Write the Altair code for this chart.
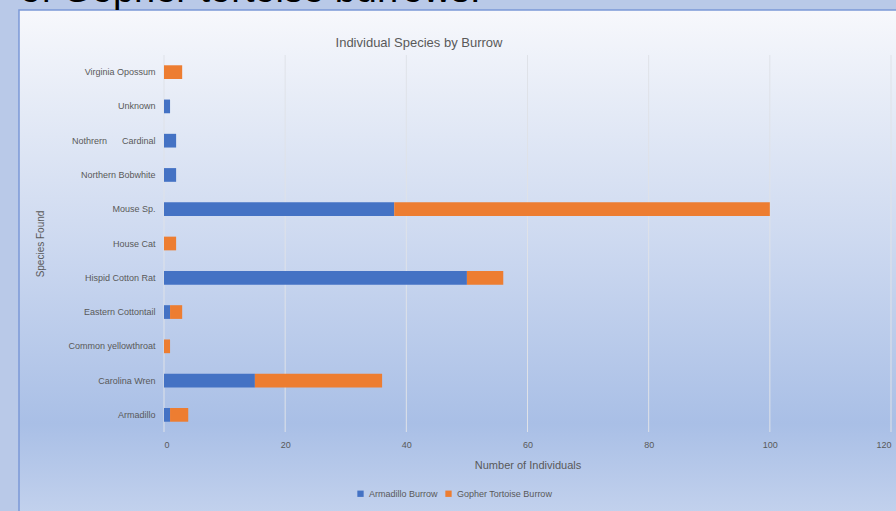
import altair as alt
import pandas as pd

species = ["Virginia Opossum", "Unknown", "Nothrern\u00a0\u00a0\u00a0\u00a0\u00a0\u00a0Cardinal",
           "Northern Bobwhite", "Mouse Sp.", "House Cat", "Hispid Cotton Rat",
           "Eastern Cottontail", "Common yellowthroat", "Carolina Wren", "Armadillo"]
armadillo_burrow = [0, 1, 2, 2, 38, 0, 50, 1, 0, 15, 1]
gopher_burrow = [3, 0, 0, 0, 62, 2, 6, 2, 1, 21, 3]
series = ["Armadillo Burrow", "Gopher Tortoise Burrow"]
colors = ["#4472c4", "#ed7d31"]
x_ticks = [0, 20, 40, 60, 80, 100, 120]
chart_title = "Individual Species by Burrow"
slide_title = "of Gopher tortoise burrows."

rows = []
for s, a, g in zip(species, armadillo_burrow, gopher_burrow):
    rows.append({"species": s, "series": series[0], "value": a, "ord": 0})
    rows.append({"species": s, "series": series[1], "value": g, "ord": 1})
df = pd.DataFrame(rows)

W, H = 727, 377
FONT = "Liberation Sans"

bg = alt.Chart(pd.DataFrame({"a": [0]})).mark_rect(
    color=alt.Gradient(
        gradient="linear", x1=0, x2=0, y1=0, y2=1,
        stops=[
            alt.GradientStop(offset=0, color="#f7f8fc"),
            alt.GradientStop(offset=0.2, color="#e4eaf6"),
            alt.GradientStop(offset=0.45, color="#cdd9f0"),
            alt.GradientStop(offset=0.8, color="#a9bfe6"),
            alt.GradientStop(offset=1, color="#c6d4ee"),
        ],
    ),
    stroke="#7b98d6", strokeWidth=1.5,
).encode(x=alt.value(-145), x2=alt.value(W + 20), y=alt.value(-45), y2=alt.value(H + 95))

big = alt.Chart(pd.DataFrame({"t": [slide_title]})).mark_text(
    font=FONT, fontSize=38, color="#000000", align="left", baseline="alphabetic"
).encode(text="t:N", x=alt.value(-144), y=alt.value(-53))

title = alt.Chart(pd.DataFrame({"t": [chart_title]})).mark_text(
    font=FONT, fontSize=13, color="#595959", align="center", baseline="middle"
).encode(text="t:N", x=alt.value(255), y=alt.value(-12))

grid = alt.Chart(pd.DataFrame({"v": x_ticks})).mark_rule(
    color="#dfe2e8", strokeWidth=1
).encode(x=alt.X("v:Q", scale=alt.Scale(domain=[0, 120], nice=False)))

bars = alt.Chart(df).mark_bar().encode(
    x=alt.X("value:Q", stack="zero",
            scale=alt.Scale(domain=[0, 120], nice=False),
            axis=alt.Axis(values=x_ticks, grid=False, domain=False, ticks=False,
                          labelFont=FONT, labelFontSize=9, labelColor="#595959",
                          labelPadding=8, title="Number of Individuals",
                          titleFont=FONT, titleFontSize=11, titleFontWeight="normal",
                          titleColor="#595959", titlePadding=10, zindex=2)),
    y=alt.Y("species:N", sort=species,
            scale=alt.Scale(paddingInner=0.6, paddingOuter=0.3),
            axis=alt.Axis(domain=False, ticks=False, grid=False,
                          labelFont=FONT, labelFontSize=9, labelColor="#595959",
                          labelPadding=9, title="Species Found",
                          titleFont=FONT, titleFontSize=10, titleFontWeight="normal",
                          titleColor="#595959", titleX=-119, titleY=H / 2, zindex=2)),
    color=alt.Color("series:N",
                    scale=alt.Scale(domain=series, range=colors),
                    legend=alt.Legend(orient="none", legendX=192, legendY=434,
                                      direction="horizontal", title=None,
                                      symbolType="square", symbolSize=40,
                                      labelFont=FONT, labelFontSize=9,
                                      labelColor="#595959", columnPadding=6,
                                      symbolStrokeWidth=0, zindex=2)),
    order=alt.Order("ord:Q"),
)

chart = alt.layer(bg, big, title, grid, bars).properties(
    width=W, height=H,
    autosize=alt.AutoSizeParams(type="none"),
    padding={"left": 164, "top": 55, "right": 5, "bottom": 79},
).configure(background="#b9c9e8").configure_view(stroke=None)

chart.save("out.html", embed_options={"renderer": "svg", "actions": False})
